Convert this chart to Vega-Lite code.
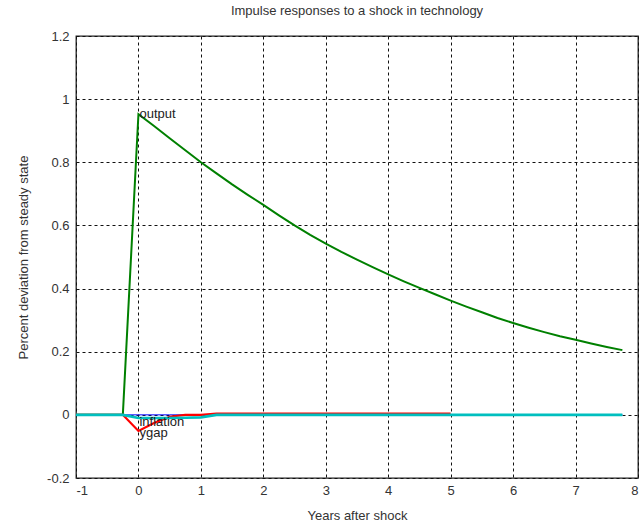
{
  "$schema": "https://vega.github.io/schema/vega-lite/v6.json",
  "autosize": "none",
  "width": 562,
  "height": 442,
  "padding": {"left": 76, "top": 36, "right": 3, "bottom": 48},
  "background": "white",
  "config": {
    "font": "Liberation Sans",
    "view": {"stroke": "#222", "strokeWidth": 1.3},
    "axis": {
      "labelFont": "Liberation Sans",
      "titleFont": "Liberation Sans",
      "labelFontSize": 13,
      "titleFontSize": 13,
      "titleFontWeight": "normal",
      "labelColor": "#333",
      "titleColor": "#333",
      "domain": false,
      "grid": true,
      "gridColor": "#111",
      "gridDash": [3, 3],
      "gridWidth": 1,
      "ticks": false,
      "labelExpr": "replace(datum.label, '\u2212', '-')"
    }
  },
  "title": {
    "text": "Impulse responses to a shock in technology",
    "font": "Liberation Sans",
    "fontSize": 13,
    "fontWeight": "normal",
    "color": "#333",
    "offset": 12
  },
  "datasets": {
    "irf": [
      {"year": -1, "output": 0, "inflation": 0, "ygap": 0, "rate": 0},
      {"year": -0.75, "output": 0, "inflation": 0, "ygap": 0, "rate": 0},
      {"year": -0.5, "output": 0, "inflation": 0, "ygap": 0, "rate": 0},
      {"year": -0.25, "output": 0, "inflation": 0, "ygap": 0, "rate": 0},
      {"year": 0, "output": 0.952, "inflation": 0, "ygap": -0.051, "rate": -0.01},
      {"year": 0.25, "output": 0.915, "inflation": 0, "ygap": -0.026, "rate": -0.01},
      {"year": 0.5, "output": 0.876, "inflation": 0, "ygap": -0.006, "rate": -0.01},
      {"year": 0.75, "output": 0.838, "inflation": 0, "ygap": 0, "rate": -0.009},
      {"year": 1, "output": 0.8, "inflation": 0, "ygap": 0, "rate": -0.008},
      {"year": 1.25, "output": 0.765, "inflation": 0, "ygap": 0.004, "rate": 0},
      {"year": 1.5, "output": 0.73, "inflation": 0, "ygap": 0.004, "rate": 0},
      {"year": 1.75, "output": 0.697, "inflation": 0, "ygap": 0.004, "rate": 0},
      {"year": 2, "output": 0.665, "inflation": 0, "ygap": 0.004, "rate": 0},
      {"year": 2.25, "output": 0.632, "inflation": 0, "ygap": 0.004, "rate": 0},
      {"year": 2.5, "output": 0.6, "inflation": 0, "ygap": 0.004, "rate": 0},
      {"year": 2.75, "output": 0.57, "inflation": 0, "ygap": 0.004, "rate": 0},
      {"year": 3, "output": 0.542, "inflation": 0, "ygap": 0.004, "rate": 0},
      {"year": 3.25, "output": 0.516, "inflation": 0, "ygap": 0.004, "rate": 0},
      {"year": 3.5, "output": 0.492, "inflation": 0, "ygap": 0.004, "rate": 0},
      {"year": 3.75, "output": 0.468, "inflation": 0, "ygap": 0.004, "rate": 0},
      {"year": 4, "output": 0.445, "inflation": 0, "ygap": 0.004, "rate": 0},
      {"year": 4.25, "output": 0.423, "inflation": 0, "ygap": 0.004, "rate": 0},
      {"year": 4.5, "output": 0.402, "inflation": 0, "ygap": 0.004, "rate": 0},
      {"year": 4.75, "output": 0.382, "inflation": 0, "ygap": 0.004, "rate": 0},
      {"year": 5, "output": 0.362, "inflation": 0, "ygap": 0.004, "rate": 0},
      {"year": 5.25, "output": 0.343, "inflation": 0, "rate": 0},
      {"year": 5.5, "output": 0.325, "inflation": 0, "rate": 0},
      {"year": 5.75, "output": 0.307, "inflation": 0, "rate": 0},
      {"year": 6, "output": 0.291, "inflation": 0, "rate": 0},
      {"year": 6.25, "output": 0.276, "inflation": 0, "rate": 0},
      {"year": 6.5, "output": 0.262, "inflation": 0, "rate": 0},
      {"year": 6.75, "output": 0.249, "inflation": 0, "rate": 0},
      {"year": 7, "output": 0.238, "inflation": 0, "rate": 0},
      {"year": 7.25, "output": 0.226, "inflation": 0, "rate": 0},
      {"year": 7.5, "output": 0.215, "inflation": 0, "rate": 0},
      {"year": 7.75, "output": 0.205, "inflation": 0, "rate": 0}
    ],
    "tags": [
      {"year": 0, "value": 0.952, "label": "output"},
      {"year": 0, "value": -0.024, "label": "inflation"},
      {"year": 0, "value": -0.056, "label": "ygap"}
    ]
  },
  "layer": [
    {
      "data": {"name": "irf"},
      "mark": {"type": "line", "color": "#008000", "strokeWidth": 2, "clip": true},
      "encoding": {
        "x": {
          "field": "year", "type": "quantitative",
          "scale": {"domain": [-1, 8], "nice": false, "zero": false},
          "axis": {"values": [-1, 0, 1, 2, 3, 4, 5, 6, 7, 8], "format": "d", "title": "Years after shock", "labelPadding": 6, "titlePadding": 12}
        },
        "y": {
          "field": "output", "type": "quantitative",
          "scale": {"domain": [-0.2, 1.2], "nice": false, "zero": false},
          "axis": {"values": [-0.2, 0, 0.2, 0.4, 0.6, 0.8, 1, 1.2], "format": "~g", "title": "Percent deviation from steady state", "labelPadding": 7, "titlePadding": 16}
        }
      }
    },
    {
      "data": {"name": "irf"},
      "mark": {"type": "line", "color": "#0000ff", "strokeWidth": 1},
      "encoding": {
        "x": {"field": "year", "type": "quantitative"},
        "y": {"field": "inflation", "type": "quantitative"}
      }
    },
    {
      "data": {"name": "irf"},
      "transform": [{"filter": "isValid(datum.ygap)"}],
      "mark": {"type": "line", "color": "#ff0000", "strokeWidth": 2.2},
      "encoding": {
        "x": {"field": "year", "type": "quantitative"},
        "y": {"field": "ygap", "type": "quantitative"}
      }
    },
    {
      "data": {"name": "irf"},
      "mark": {"type": "line", "color": "#00bfbf", "strokeWidth": 2.6},
      "encoding": {
        "x": {"field": "year", "type": "quantitative"},
        "y": {"field": "rate", "type": "quantitative"}
      }
    },
    {
      "data": {"name": "tags"},
      "mark": {"type": "text", "align": "left", "baseline": "middle", "dx": 1, "font": "Liberation Sans", "fontSize": 13, "color": "#222"},
      "encoding": {
        "x": {"field": "year", "type": "quantitative"},
        "y": {"field": "value", "type": "quantitative"},
        "text": {"field": "label"}
      }
    }
  ]
}
